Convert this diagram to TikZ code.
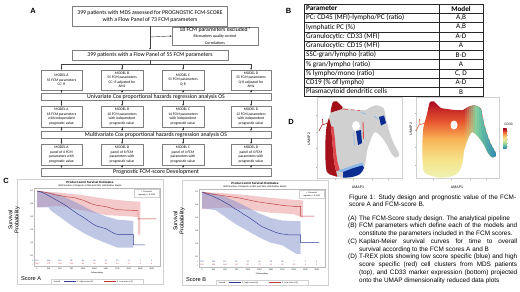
\documentclass[tikz,border=0pt]{standalone}
\usepackage{fontspec}
\setmainfont{Liberation Sans}
\newfontfamily\calib{Carlito}
\usetikzlibrary{arrows.meta}
\definecolor{boxg}{HTML}{7F7F7F}
\definecolor{arrg}{HTML}{404040}
\definecolor{tblc}{HTML}{262626}
\definecolor{kmb}{HTML}{2F3E94}
\definecolor{kmr}{HTML}{C0393A}
\definecolor{kmbb}{HTML}{8391CC}
\definecolor{kmrb}{HTML}{E89494}
\definecolor{frg}{HTML}{D0D0D0}
\definecolor{axg}{HTML}{B8B8B8}
\definecolor{umg}{HTML}{D0D0D0}
\definecolor{dred}{HTML}{A3111A}
\definecolor{mred}{HTML}{E0474C}
\definecolor{dblue}{HTML}{0B2C91}
\definecolor{lblue}{HTML}{8DB8E8}
\definecolor{c0d}{HTML}{A50026}
\definecolor{c0}{HTML}{C62828}
\definecolor{c1}{HTML}{E8582F}
\definecolor{c2}{HTML}{F9B456}
\definecolor{c3}{HTML}{F5E58C}
\definecolor{ly}{HTML}{EEF2B5}
\definecolor{c4}{HTML}{C9E69A}
\definecolor{c5}{HTML}{6CC4A0}
\definecolor{c6}{HTML}{2E86B3}
\newcommand\fsz[2]{\fontsize{#1}{#2}\selectfont}
\pgfdeclareverticalshading{vmap}{100bp}{color(0bp)=(ly); color(25bp)=(ly); color(36bp)=(c3); color(50bp)=(c2); color(61bp)=(c1); color(69bp)=(c0); color(75bp)=(c0d); color(100bp)=(c0d)}
\pgfdeclareverticalshading{cbar}{100bp}{color(0bp)=(c6); color(25bp)=(c6); color(33bp)=(c5); color(42bp)=(c4); color(50bp)=(c3); color(58bp)=(c2); color(67bp)=(c1); color(75bp)=(c0d); color(100bp)=(c0d)}
\newcommand\blob[1]{\path[#1] plot[smooth cycle,tension=0.5] coordinates {(333,102) (337,101.5) (341,105.5) (344,108) (350,109) (358,110) (366,110) (370,107.5) (375,105.5) (380,106) (384,109) (385.5,116) (387.5,125) (390.5,135) (394.5,145) (398.5,152) (399,156) (395,157.5) (391,153) (387,145) (383,139) (379,134.5) (375,132) (372,136.5) (369.5,143) (367,151) (366,160) (364,168) (360,174) (352,177) (342,177.5) (333,175.5) (327,172) (325.5,160) (325.5,140) (326.5,127) (328,121) (330,114) (331.5,107)};}
\newcommand\kmframe[4]{%
\draw[draw=frg, line width=0.4pt, fill=white] (17,179) rectangle (163,284);
\node[inner sep=0pt, font=\fsz{3}{3}\bfseries] at (90,182.5) {Product-Limit Survival Estimates};
\node[inner sep=0pt, font=\fsz{2.3}{2.5}] at (90,185.8) {With Number of Subjects at Risk and 95\% Hall-Wellner Bands};
\draw[draw=axg, line width=0.3pt] (34,188) rectangle (160,266.5);
\foreach \v/\yy in {1.0/191,0.8/204,0.6/217,0.4/230,0.2/243,0.0/256}{\node[kmt, anchor=east] at (33.3,\yy) {\v};}
\node[kmt, anchor=east, text=kmb] at (33.3,261.3) {1};
\node[kmt, anchor=east, text=kmr] at (33.3,264.3) {2};
\foreach \n [count=\i from 0] in {#3}{\node[kmt, text=kmb] at ({37+11.48*\i},261.3) {\n};}
\foreach \n [count=\i from 0] in {#4}{\node[kmt, text=kmr] at ({37+11.48*\i},264.3) {\n};}
\foreach \d [count=\i from 0] in {0,250,...,2500}{\node[kmt] at ({37+11.48*\i},268.6) {\d};}
\node[kmt] at (97,272.6) {Followupdays};
\node[inner sep=0pt, font=\fsz{5.6}{6}, anchor=west] at (21,278.3) {#1};
\draw[draw=frg, line width=0.3pt] (51,279.3) rectangle (143,284);
\node[kmt] at (57,281.6) {#2};
\draw[kmb, line width=0.35pt] (64,281.6) -- (76,281.6);
\node[kmt, anchor=west] at (77,281.6) {1: High score (≥2)};
\draw[kmr, line width=0.35pt] (104,281.6) -- (116,281.6);
\node[kmt, anchor=west] at (117,281.6) {2: Low score (<2)};
\draw[draw=frg, line width=0.3pt] (134,189) rectangle (159.3,197.6);
\node[kmt] at (146.6,191.3) {+ Censored};
\node[kmt] at (146.6,195.1) {Logrank p < 0.0001};
\node[inner sep=0pt, font=\fsz{5.6}{6.3}, rotate=90, align=center] at (14,220) {Survival\\Probability};
}
\begin{document}
\begin{tikzpicture}[x=1pt,y=-1pt,
  tb/.style={draw=boxg, line width=0.5pt, fill=white, inner sep=0pt, align=center, font=\calib\fsz{5.8}{7}},
  mb/.style={draw=boxg, line width=0.4pt, fill=white, inner sep=0pt, align=center, font=\calib\fsz{3.7}{4.5}, minimum height=20pt},
  barb/.style={draw=boxg, line width=0.45pt, fill=white, inner sep=0pt, minimum width=230pt, font=\calib\fsz{5.8}{6}},
  arr/.style={draw=arrg, line width=0.4pt, -{Stealth[length=2pt,width=1.8pt]}},
  ln/.style={draw=arrg, line width=0.4pt},
  lbl/.style={font=\fsz{7.5}{8}\bfseries, inner sep=0pt},
  captxt/.style={anchor=base west, inner sep=0pt, font=\fsz{6.4}{7}},
  tbl/.style={anchor=west, inner sep=0pt, font=\calib\fsz{7.2}{8}},
  tblm/.style={inner sep=0pt, font=\calib\fsz{7.2}{8}},
  kmt/.style={inner sep=0pt, font=\fsz{2}{2}},
  umt/.style={inner sep=0pt, font=\fsz{3.6}{4}},
]
\useasboundingbox (0,0) rectangle (520,292);
\fill[white] (0,0) rectangle (520,292);

% ---------------- Panel A ----------------
\node[lbl] (la) at (33,11) {A};
\node[tb, minimum width=155pt, minimum height=20pt] (top) at (150,16) {399 patients with MDS assessed for PROGNOSTIC FCM-SCORE\\with a Flow Panel of 73 FCM parameters};
\node[tb, minimum width=86pt, minimum height=18pt, font=\calib\fsz{5.8}{6.5}] (excl) at (215,36) {18 FCM parameters excluded*\\[-0.5pt]{\fsz{4}{4.4}Biomarkers quality control}\\{\fsz{4}{4.4}Correlations}};
\node[tb, minimum width=156pt, minimum height=10pt] (p55) at (150,55) {399 patients with a Flow Panel of 55 FCM parameters};
\coordinate (br) at (150,37);
\draw[arr] (top.south) -- (p55.north);
\draw[arr] (br) -- (excl.west);

\node[mb, minimum width=41pt] (m1a) at (61.5,80) {MODEL A\\55 FCM parameters\\CC- R};
\node[mb, minimum width=42pt] (m1b) at (122,80) {MODEL B\\55 FCM parameters\\CC- R adjusted for\\AML};
\node[mb, minimum width=42pt] (m1c) at (183,80) {MODEL C\\55 FCM parameters\\Q-R};
\node[mb, minimum width=40pt] (m1d) at (251,80) {MODEL D\\55 FCM parameters\\Q-R adjusted for\\AML};
\coordinate (j) at (150,64);
\draw[ln] (p55.south) -- (j);
\draw[ln] (m1a.north |- j) -- (m1d.north |- j);
\foreach \m in {m1a,m1b,m1c,m1d}{\draw[arr] (\m.north |- j) -- (\m.north);}

\node[barb, minimum height=7pt] (uni) at (156,96.5) {Univariate Cox proportional hazards regression analysis OS};
\foreach \m in {m1a,m1b,m1c,m1d}{\draw[arr] (\m.south) -- (\m.south |- uni.north);}

\node[mb, minimum width=41pt, minimum height=21pt] (m2a) at (61.5,116.5) {MODEL A\\18 FCM parameters\\with independent\\prognostic value};
\node[mb, minimum width=42pt, minimum height=21pt] (m2b) at (122,116.5) {MODEL B\\10 FCM parameters\\with independent\\prognostic value};
\node[mb, minimum width=42pt, minimum height=21pt] (m2c) at (183,116.5) {MODEL C\\14 FCM parameters\\with independent\\prognostic value};
\node[mb, minimum width=40pt, minimum height=21pt] (m2d) at (251,116.5) {MODEL D\\13 FCM parameters\\with independent\\prognostic value};
\foreach \m in {m2a,m2b,m2c,m2d}{\draw[arr] (\m.north |- uni.south) -- (\m.north);}

\node[barb, minimum height=7pt] (mul) at (156,134.5) {Multivariate Cox proportional hazards regression analysis OS};
\foreach \m in {m2a,m2b,m2c,m2d}{\draw[arr] (\m.south) -- (\m.south |- mul.north);}

\node[mb, minimum width=41pt, minimum height=21pt] (m3a) at (61.5,154.5) {MODEL A\\panel of 6 FCM\\parameters with\\prognostic value};
\node[mb, minimum width=42pt, minimum height=21pt] (m3b) at (122,154.5) {MODEL B\\panel of 6 FCM\\parameters with\\prognostic value};
\node[mb, minimum width=42pt, minimum height=21pt] (m3c) at (183,154.5) {MODEL C\\panel of 4 FCM\\parameters with\\prognostic value};
\node[mb, minimum width=40pt, minimum height=21pt] (m3d) at (251,154.5) {MODEL D\\panel of 4 FCM\\parameters with\\prognostic value};
\foreach \m in {m3a,m3b,m3c,m3d}{\draw[arr] (\m.north |- mul.south) -- (\m.north);}

\node[barb, minimum height=8pt, font=\calib\fsz{5.9}{6}] (prog) at (156,172) {Prognostic FCM-score Development};
\foreach \m in {m3a,m3b,m3c,m3d}{\draw[arr] (\m.south) -- (\m.south |- prog.north);}

% ---------------- Panel B ----------------
\node[lbl] (lb) at (288.5,11) {B};
\foreach \k in {1,...,9}{\draw[draw=tblc, line width=0.4pt] (304,{4+9.25*\k}) -- (483,{4+9.25*\k});}
\draw[draw=tblc, line width=0.4pt] (439,4) -- (439,96.5);
\draw[draw=tblc, line width=0.9pt] (304,4) rectangle (483,96.5);
\node[tbl, font=\calib\fsz{7.2}{8}\bfseries] (t0) at (306,8.6) {Parameter};
\node[tblm, font=\calib\fsz{7.2}{8}\bfseries] (u0) at (461,8.6) {Model};
\node[tbl] (t1) at (306,17.9) {PC: CD45 (MFI)-lympho/PC (ratio)};
\node[tblm] (u1) at (461,17.9) {A,B};
\node[tbl] (t2) at (306,27.1) {lymphatic PC (\%)};
\node[tblm] (u2) at (461,27.1) {A,B};
\node[tbl] (t3) at (306,36.4) {Granulocytic: CD33 (MFI)};
\node[tblm] (u3) at (461,36.4) {A-D};
\node[tbl] (t4) at (306,45.6) {Granulocytic: CD15 (MFI)};
\node[tblm] (u4) at (461,45.6) {A};
\node[tbl] (t5) at (306,54.9) {SSC-gran/lympho (ratio)};
\node[tblm] (u5) at (461,54.9) {B-D};
\node[tbl] (t6) at (306,64.1) {\% gran/lympho (ratio)};
\node[tblm] (u6) at (461,64.1) {A};
\node[tbl] (t7) at (306,73.4) {\% lympho/mono (ratio)};
\node[tblm] (u7) at (461,73.4) {C, D};
\node[tbl] (t8) at (306,82.6) {CD19 (\% of lympho)};
\node[tblm] (u8) at (461,82.6) {A-D};
\node[tbl] (t9) at (306,91.9) {Plasmacytoid dendritic cells};
\node[tblm] (u9) at (461,91.9) {B};

% ---------------- Panel C ----------------
\node[lbl] (lc) at (6,181) {C};
\kmframe{Score A}{ScoreA}{191,164,116,86,66,46,31,19,8,1,0}{208,175,148,111,86,69,49,34,17,4,0}
\begin{scope}[shift={(37,256)}, x=0.0459pt, y=65pt]
\fill[kmrb, fill opacity=0.5] (0,1) -- (500,0.975) -- (1000,0.935) -- (1500,0.88) -- (2000,0.845) -- (2250,0.835) -- (2250,0.33) -- (2200,0.33) -- (2200,0.6) -- (2000,0.61) -- (1500,0.63) -- (1000,0.7) -- (500,0.77) -- (250,0.76) -- (0,0.75) -- cycle;
\fill[kmbb, fill opacity=0.5] (0,1) -- (250,0.98) -- (500,0.94) -- (750,0.86) -- (1000,0.77) -- (1250,0.68) -- (1500,0.61) -- (1750,0.56) -- (2100,0.54) -- (2100,0.13) -- (1750,0.13) -- (1500,0.2) -- (1250,0.27) -- (1000,0.36) -- (750,0.47) -- (500,0.6) -- (300,0.7) -- (250,0.75) -- (0,0.75) -- cycle;
\draw[kmr, line width=0.45pt] (0,1) -- (100,0.99) -- (250,0.97) -- (400,0.94) -- (500,0.93) -- (650,0.91) -- (800,0.9) -- (900,0.88) -- (1000,0.86) -- (1100,0.83) -- (1200,0.8) -- (1300,0.78) -- (1400,0.77) -- (1500,0.76) -- (1600,0.74) -- (1700,0.72) -- (1800,0.71) -- (2200,0.7) -- (2200,0.57) -- (2600,0.57);
\draw[kmb, line width=0.45pt] (0,1) -- (60,0.99) -- (120,0.975) -- (200,0.95) -- (300,0.91) -- (400,0.87) -- (500,0.83) -- (600,0.79) -- (700,0.74) -- (800,0.69) -- (900,0.64) -- (1000,0.6) -- (1100,0.55) -- (1200,0.5) -- (1300,0.46) -- (1400,0.44) -- (1500,0.42) -- (1600,0.38) -- (1700,0.34) -- (1800,0.33) -- (2100,0.33) -- (2100,0.17) -- (2350,0.17);
\end{scope}

\begin{scope}[shift={(165,1)}]
\kmframe{Score B}{ScoreB}{201,166,117,82,61,44,29,18,7,1,0}{198,181,148,117,90,70,51,33,16,4,0}
\begin{scope}[shift={(37,256)}, x=0.0459pt, y=65pt]
\fill[kmrb, fill opacity=0.5] (0,1) -- (500,0.98) -- (1000,0.95) -- (1500,0.91) -- (2000,0.88) -- (2200,0.87) -- (2200,0.6) -- (2000,0.66) -- (1500,0.68) -- (1000,0.73) -- (500,0.76) -- (0,0.74) -- cycle;
\fill[kmbb, fill opacity=0.5] (0,1) -- (250,0.98) -- (500,0.93) -- (750,0.85) -- (1000,0.76) -- (1250,0.67) -- (1500,0.6) -- (1750,0.56) -- (2150,0.55) -- (2150,0.05) -- (2050,0.05) -- (1750,0.18) -- (1500,0.22) -- (1250,0.3) -- (1000,0.4) -- (750,0.5) -- (500,0.62) -- (300,0.72) -- (0,0.75) -- cycle;
\draw[kmr, line width=0.45pt] (0,1) -- (200,0.97) -- (400,0.95) -- (600,0.93) -- (800,0.91) -- (1000,0.88) -- (1200,0.85) -- (1400,0.83) -- (1600,0.81) -- (1800,0.79) -- (2000,0.78) -- (2150,0.78) -- (2150,0.63) -- (2450,0.63);
\draw[kmb, line width=0.45pt] (0,1) -- (100,0.97) -- (250,0.93) -- (400,0.88) -- (500,0.84) -- (600,0.8) -- (700,0.75) -- (800,0.71) -- (900,0.66) -- (1000,0.62) -- (1100,0.57) -- (1200,0.52) -- (1300,0.47) -- (1400,0.44) -- (1500,0.41) -- (1600,0.38) -- (1700,0.36) -- (1900,0.34) -- (2150,0.34) -- (2150,0.22) -- (2550,0.22);
\end{scope}
\end{scope}

% ---------------- Panel D ----------------
\node[lbl] (ld) at (291,122) {D};
% left UMAP (T-REX)
\draw[draw=frg, line width=0.4pt] (317,97.5) rectangle (402,178.5);
\foreach \yy in {115,132,148,167}{\draw[draw=axg, line width=0.3pt] (315.5,\yy) -- (317,\yy);}
\foreach \xx in {335,353,372,388}{\draw[draw=axg, line width=0.3pt] (\xx,178.5) -- (\xx,180);}
\blob{fill=umg}
\draw[dred, line width=0.6pt] (328,123) -- (322,125) -- (319,131) (323,124.5) -- (322.5,119);
\begin{scope}
\blob{clip}
\fill[dred] (318,118) -- (329,118) -- (331,126) -- (332,138) -- (333,150) -- (334,162) -- (336,171) -- (338,180) -- (318,180) -- cycle;
\fill[mred] (331,126) -- (333.5,127) -- (335,140) -- (336,152) -- (337.5,162) -- (340,171) -- (336,171) -- (334,162) -- (333,150) -- (332,138) -- cycle;
\fill[dred] (329,99) -- (344,99) -- (342,109) -- (331,112.5) -- cycle;
\draw[mred, line width=0.6pt] (342,109) -- (348,109.5) (351,109.8) -- (354,110) (357,110.3) -- (360,110.5);
\draw[mred, line width=0.9pt] (363,122) -- (363.5,139);
\fill[white] (356,126) ellipse (4pt and 5pt);
\fill[dblue] (356,131) -- (361,130) -- (362,143) -- (358,145) -- cycle;
\draw[lblue, line width=0.7pt] (353.5,133) -- (354.5,145);
\draw[lblue, line width=0.7pt] (361,112.5) -- (366,114) (374,116) -- (378,119);
\fill[dblue] (379,117) -- (384,115.5) -- (386,123) -- (381,125.5) -- cycle;
\fill[lblue] (337,171) -- (350,166.5) -- (362,162.5) -- (364,166) -- (345,172.5) -- cycle;
\fill[dblue] (343,172) -- (352,168.5) -- (362,165.5) -- (366,169) -- (362,180) -- (343,180) -- cycle;
\end{scope}
\node[umt, rotate=90] (u2a) at (309,139) {UMAP2};
\node[umt] (u1a) at (358,187.5) {UMAP1};

% right UMAP (CD33)
\draw[draw=frg, line width=0.4pt] (416,97.5) rectangle (499,178.5);
\foreach \yy in {113,130,147,165}{\draw[draw=axg, line width=0.3pt] (414.5,\yy) -- (416,\yy);}
\foreach \xx in {433,451,470,486}{\draw[draw=axg, line width=0.3pt] (\xx,178.5) -- (\xx,180);}
\begin{scope}[shift={(97,0)}]
\draw[c1, line width=0.6pt] (328,123) -- (322,125) -- (319,131) (323,124.5) -- (322.5,119);
\begin{scope}
\blob{clip}
\shade[shading=vmap] (318,100) rectangle (403,178);
\foreach \xx in {366,368,...,402}{%
 \pgfmathtruncatemacro\pa{max(0,min(100,(\xx-366)*6))}%
 \pgfmathtruncatemacro\pb{max(0,min(100,(\xx-381)*5.5))}%
 \pgfmathsetmacro\al{max(0,min(1,(\xx-366)/12))}%
 \colorlet{tmpa}{c5!\pa!c4}\colorlet{tmpb}{c6!\pb!tmpa}%
 \fill[tmpb, fill opacity=\al] (\xx,95) rectangle ({\xx+2},182);
}
\fill[white] (357,125) ellipse (3.5pt and 4.5pt);
\end{scope}
\end{scope}
\node[umt, rotate=90] (u2b) at (411,129) {UMAP2};
\node[umt] (u1b) at (457,187.5) {UMAP1};
\node[inner sep=0pt, font=\fsz{3.3}{4}] (cdl) at (508.5,124) {CD33};
\shade[shading=cbar] (503,128.5) rectangle (506.5,148);
\foreach \yy in {131,135,139,143,146}{\draw[draw=axg, line width=0.2pt] (506.5,\yy) -- (507.5,\yy);}

% ---------------- Caption ----------------
\node[captxt] (f1) at (349,199) {\makebox[167pt][s]{Figure 1: Study design and prognostic value of the FCM-}};
\node[captxt] (f2) at (349,206.5) {score A and FCM-score B.};
\node[captxt] (ca) at (348,220) {(A)};
\node[captxt] (cat) at (359,220) {The FCM-Score study design. The analytical pipeline};
\node[captxt] (cb) at (348,227.8) {(B)};
\node[captxt] (cbt) at (359,227.8) {\makebox[158pt][s]{FCM parameters which define each of the models and}};
\node[captxt] (cbt2) at (359,235.5) {constitute the parameters included in the FCM scores.};
\node[captxt] (cc) at (348,243.3) {(C)};
\node[captxt] (cct) at (359,243.3) {\makebox[158pt][s]{Kaplan-Meier survival curves for time to overall}};
\node[captxt] (cct2) at (359,251) {survival according to the FCM scores A and B};
\node[captxt] (cd) at (348,258.8) {(D)};
\node[captxt] (cdt) at (359,258.8) {\makebox[158pt][s]{T-REX plots showing low score specific (blue) and high}};
\node[captxt] (cdt2) at (359,266.5) {\makebox[158pt][s]{score specific (red) cell clusters from MDS patients}};
\node[captxt] (cdt3) at (359,274.3) {\makebox[158pt][s]{(top), and CD33 marker expression (bottom) projected}};
\node[captxt] (cdt4) at (359,282) {onto the UMAP dimensionality reduced data plots};
\end{tikzpicture}
\end{document}
